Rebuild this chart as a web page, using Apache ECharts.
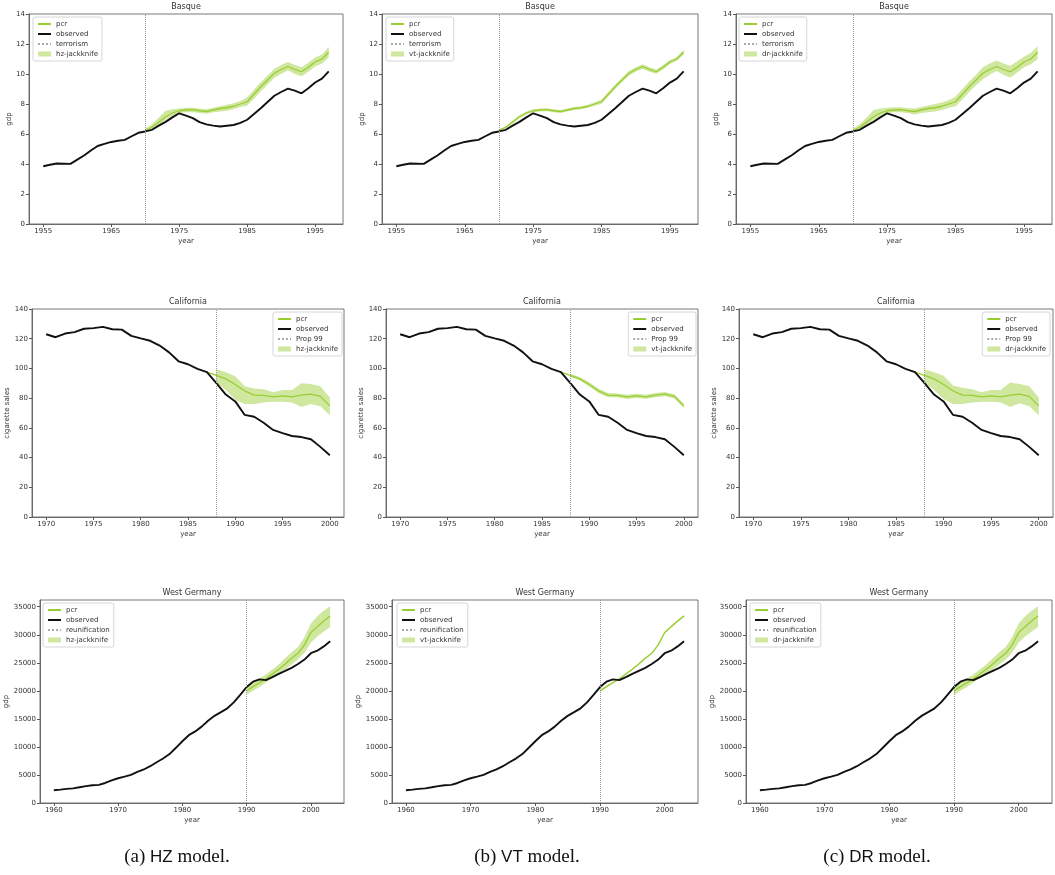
<!DOCTYPE html>
<html>
<head>
<meta charset="utf-8">
<script src="https://cdn.jsdelivr.net/npm/echarts@6/dist/echarts.min.js"></script>
<style>
  html, body { margin: 0; padding: 0; background: #fff; }
  #chart { width: 1055px; height: 875px; }
</style>
</head>
<body>
<div id="chart"></div>
<script>
  function range(a, b) {
    const r = []
    for (let y = a; y <= b; y++) r.push(y)
    return r
  }

  // ---- Basque ----
  const basqueYears = range(1955, 1997)
  const basqueObs = [3.85, 3.95, 4.03, 4.02, 4.01, 4.29, 4.57, 4.90, 5.20, 5.34,
    5.47, 5.55, 5.61, 5.85, 6.08, 6.17, 6.28, 6.56, 6.81, 7.11,
    7.38, 7.23, 7.06, 6.79, 6.64, 6.56, 6.50, 6.55, 6.60, 6.74,
    6.95, 7.33, 7.72, 8.13, 8.55, 8.80, 9.03, 8.89, 8.71, 9.05,
    9.43, 9.69, 10.17]
  const basqueTreat = 1970
  const basquePostYears = range(1970, 1997)
  const basquePcr = [6.25, 6.45, 6.8, 7.15, 7.4, 7.55, 7.6, 7.62, 7.55, 7.5,
    7.6, 7.7, 7.75, 7.85, 8.0, 8.15, 8.65, 9.15, 9.6, 10.05,
    10.3, 10.5, 10.3, 10.15, 10.45, 10.8, 11.0, 11.45]
  const basqueHzLo = [6.15, 6.3, 6.6, 6.95, 7.2, 7.4, 7.45, 7.45, 7.4, 7.35,
    7.45, 7.5, 7.55, 7.65, 7.8, 7.9, 8.35, 8.85, 9.3, 9.75,
    10.0, 10.25, 10.0, 9.85, 10.15, 10.5, 10.7, 11.1]
  const basqueHzHi = [6.35, 6.65, 7.1, 7.55, 7.65, 7.7, 7.75, 7.75, 7.7, 7.65,
    7.75, 7.85, 7.95, 8.05, 8.2, 8.45, 8.95, 9.45, 9.9, 10.35,
    10.6, 10.8, 10.6, 10.45, 10.75, 11.1, 11.3, 11.8]
  const basqueVtLo = [6.18, 6.38, 6.7, 7.05, 7.3, 7.45, 7.5, 7.52, 7.45, 7.4,
    7.5, 7.6, 7.65, 7.75, 7.88, 8.02, 8.52, 9.02, 9.47, 9.9,
    10.15, 10.35, 10.15, 10.02, 10.32, 10.67, 10.88, 11.3]
  const basqueVtHi = [6.32, 6.52, 6.9, 7.25, 7.5, 7.65, 7.7, 7.72, 7.65, 7.6,
    7.7, 7.8, 7.85, 7.95, 8.12, 8.3, 8.8, 9.3, 9.75, 10.2,
    10.45, 10.65, 10.45, 10.3, 10.6, 10.93, 11.13, 11.62]
  const basqueDrLo = [6.15, 6.3, 6.6, 6.95, 7.2, 7.4, 7.45, 7.45, 7.4, 7.3,
    7.4, 7.45, 7.5, 7.6, 7.75, 7.85, 8.3, 8.8, 9.25, 9.65,
    9.95, 10.2, 9.95, 9.75, 10.1, 10.45, 10.65, 11.0]
  const basqueDrHi = [6.35, 6.65, 7.1, 7.6, 7.7, 7.75, 7.78, 7.78, 7.72, 7.7,
    7.8, 7.9, 8.0, 8.1, 8.25, 8.5, 9.0, 9.5, 9.95, 10.45,
    10.7, 10.9, 10.7, 10.55, 10.85, 11.15, 11.4, 11.85]
  const basqueXTicks = [1955, 1965, 1975, 1985, 1995]
  const basqueYTicks = [0, 2, 4, 6, 8, 10, 12, 14]

  // ---- California ----
  const caliYears = range(1970, 2000)
  const caliObs = [123.0, 121.0, 123.5, 124.4, 126.7, 127.1, 128.0, 126.4, 126.1, 121.9,
    120.2, 118.6, 115.4, 110.8, 104.8, 102.8, 99.7, 97.5, 90.1, 82.4,
    77.8, 68.7, 67.5, 63.4, 58.6, 56.4, 54.5, 53.8, 52.3, 47.2, 41.6]
  const caliTreat = 1988
  const caliPcrYears = range(1987, 2000)
  const caliPcr = [97.5, 95.3, 93.0, 89.2, 84.8, 82.0, 81.8, 80.8, 81.5, 80.9, 82.0, 82.7, 81.2, 74.8]
  const caliBandYears = range(1988, 2000)
  const caliHzLo = [90.5, 85.5, 79.0, 76.0, 76.0, 77.0, 77.5, 77.5, 77.0, 74.0, 76.0, 74.5, 68.5]
  const caliHzHi = [99.5, 97.5, 94.8, 88.0, 86.5, 86.0, 84.0, 85.5, 85.5, 90.0, 89.5, 88.0, 80.5]
  const caliVtLo = [94.2, 91.8, 87.8, 83.3, 80.6, 80.4, 79.4, 80.1, 79.6, 80.6, 81.3, 79.8, 73.3]
  const caliVtHi = [96.5, 94.3, 90.7, 86.3, 83.5, 83.2, 82.3, 83.0, 82.3, 83.4, 84.1, 82.6, 76.3]
  const caliDrLo = [90.5, 85.5, 79.5, 76.0, 76.0, 77.0, 77.5, 77.5, 77.0, 74.0, 76.5, 74.5, 68.5]
  const caliDrHi = [99.5, 97.5, 95.0, 88.5, 87.0, 86.0, 84.0, 85.5, 85.5, 90.5, 89.5, 88.0, 80.5]
  const caliXTicks = [1970, 1975, 1980, 1985, 1990, 1995, 2000]
  const caliYTicks = [0, 20, 40, 60, 80, 100, 120, 140]

  // ---- West Germany ----
  const wgYears = range(1960, 2003)
  const wgObs = [2284, 2388, 2527, 2610, 2806, 3005, 3168, 3241, 3571, 4029,
    4412, 4706, 5024, 5544, 5979, 6564, 7258, 7926, 8724, 9845,
    11014, 12093, 12763, 13618, 14671, 15538, 16209, 16886, 17949, 19284,
    20670, 21625, 22047, 21913, 22435, 23028, 23564, 24104, 24781, 25579,
    26706, 27156, 27924, 28855]
  const wgTreat = 1990
  const wgPostYears = range(1990, 2003)
  const wgPcr = [20000, 20750, 21450, 22150, 23000, 23850, 24800, 25800, 26700, 28200, 30400, 31450, 32450, 33350]
  const wgHzLo = [19300, 20000, 20700, 21500, 22300, 23000, 23800, 24700, 25600, 26800, 28600, 29700, 30600, 31400]
  const wgHzHi = [20700, 21500, 22200, 22900, 23800, 24700, 25800, 26900, 27800, 29600, 32000, 33300, 34300, 35100]
  const wgVtLo = [19850, 20600, 21300, 22000, 22850, 23700, 24650, 25650, 26550, 28000, 30200, 31250, 32250, 33150]
  const wgVtHi = [20150, 20900, 21600, 22300, 23150, 24000, 24950, 25950, 26850, 28400, 30600, 31650, 32650, 33550]
  const wgDrLo = [19300, 20000, 20700, 21500, 22300, 23000, 23800, 24700, 25600, 26800, 28600, 29700, 30600, 31400]
  const wgDrHi = [20700, 21500, 22200, 22900, 23800, 24700, 25800, 26900, 27800, 29600, 32000, 33300, 34300, 35100]
  const wgXTicks = [1960, 1970, 1980, 1990, 2000]
  const wgYTicks = [0, 5000, 10000, 15000, 20000, 25000, 30000, 35000]

  const models = ['hz', 'vt', 'dr']
  const captions = [['(a) ', 'HZ', ' model.'], ['(b) ', 'VT', ' model.'], ['(c) ', 'DR', ' model.']]

  const FONT = 'DejaVu Sans'
  const TEXT = '#333'
  const FRAME = '#555'
  const PCR = '#9acd32'
  const BAND = '#cfe79f'

  const panels = [
    {
      title: 'Basque', years: basqueYears, obs: basqueObs, pcrYears: basquePostYears, pcr: basquePcr,
      bandYears: basquePostYears, bands: [[basqueHzLo, basqueHzHi], [basqueVtLo, basqueVtHi], [basqueDrLo, basqueDrHi]],
      event: 'terrorism', treat: basqueTreat, yName: 'gdp', yMax: 14, xMin: 1952.9, xMax: 1999.1,
      xTicks: basqueXTicks, yTicks: basqueYTicks, yNameGap: 16,
      top: 14, height: 210, cols: [[29, 314], [382, 316], [736, 316]], titleY: 7,
      legend: [{ left: 33, top: 17 }, { left: 386, top: 17 }, { left: 739, top: 17 }]
    },
    {
      title: 'California', years: caliYears, obs: caliObs, pcrYears: caliPcrYears, pcr: caliPcr,
      bandYears: caliBandYears, bands: [[caliHzLo, caliHzHi], [caliVtLo, caliVtHi], [caliDrLo, caliDrHi]],
      event: 'Prop 99', treat: caliTreat, yName: 'cigarette sales', yMax: 140, xMin: 1968.5, xMax: 2001.5,
      xTicks: caliXTicks, yTicks: caliYTicks, yNameGap: 20,
      top: 309, height: 208, cols: [[32, 312], [386, 312], [739, 314]], titleY: 302,
      legend: [{ right: 713, top: 312 }, { right: 359, top: 312 }, { right: 5, top: 312 }]
    },
    {
      title: 'West Germany', years: wgYears, obs: wgObs, pcrYears: wgPostYears, pcr: wgPcr,
      bandYears: wgPostYears, bands: [[wgHzLo, wgHzHi], [wgVtLo, wgVtHi], [wgDrLo, wgDrHi]],
      event: 'reunification', treat: wgTreat, yName: 'gdp', yMax: 36200, xMin: 1957.85, xMax: 2005.15,
      xTicks: wgXTicks, yTicks: wgYTicks, yNameGap: 29,
      top: 600, height: 203, cols: [[40, 304], [392, 306], [746, 306]], titleY: 593,
      legend: [{ left: 43, top: 603 }, { left: 397, top: 603 }, { left: 750, top: 603 }]
    }
  ]

  const plain = function (v) { return String(v) }

  const grid = []
  const xAxis = []
  const yAxis = []
  const series = []
  const legend = []
  const graphic = []

  panels.forEach((p, r) => {
    p.cols.forEach((col, c) => {
      const idx = r * 3 + c
      const model = models[c]
      const lo = p.bands[c][0]
      const hi = p.bands[c][1]

      grid.push({
        left: col[0], top: p.top, width: col[1], height: p.height,
        show: true, borderColor: FRAME, borderWidth: 0.8, containLabel: false
      })
      xAxis.push({
        gridIndex: idx, type: 'value', min: p.xMin, max: p.xMax,
        name: 'year', nameLocation: 'middle', nameGap: 14,
        nameTextStyle: { fontSize: 7, color: TEXT, fontFamily: FONT },
        axisLine: { show: true, lineStyle: { color: FRAME, width: 0.8 } },
        axisTick: { show: true, length: 3, customValues: p.xTicks, lineStyle: { color: FRAME } },
        axisLabel: { customValues: p.xTicks, formatter: plain, fontSize: 7, color: TEXT, fontFamily: FONT, margin: 4 },
        splitLine: { show: false }
      })
      yAxis.push({
        gridIndex: idx, type: 'value', min: 0, max: p.yMax,
        name: p.yName, nameLocation: 'middle', nameGap: p.yNameGap,
        nameTextStyle: { fontSize: 7, color: TEXT, fontFamily: FONT },
        axisLine: { show: true, lineStyle: { color: FRAME, width: 0.8 } },
        axisTick: { show: true, length: 3, customValues: p.yTicks, lineStyle: { color: FRAME } },
        axisLabel: { customValues: p.yTicks, formatter: plain, fontSize: 7, color: TEXT, fontFamily: FONT, margin: 4 },
        splitLine: { show: false }
      })

      const bandName = model + '-jackknife'
      series.push({
        name: bandName, type: 'custom', xAxisIndex: idx, yAxisIndex: idx, z: 1,
        itemStyle: { color: BAND },
        encode: { x: 0, y: [1, 2] },
        data: p.bandYears.map((y, i) => [y, lo[i], hi[i]]),
        renderItem: function (params, api) {
          if (params.dataIndex !== 0) return
          const upper = []
          const lower = []
          p.bandYears.forEach((y, i) => {
            upper.push(api.coord([y, hi[i]]))
            lower.push(api.coord([y, lo[i]]))
          })
          return {
            type: 'polygon',
            shape: { points: upper.concat(lower.reverse()) },
            style: { fill: BAND }
          }
        }
      })
      series.push({
        name: 'pcr', type: 'line', xAxisIndex: idx, yAxisIndex: idx, z: 3,
        symbol: 'none', silent: true,
        itemStyle: { color: PCR },
        lineStyle: { color: PCR, width: 1.3 },
        data: p.pcrYears.map((y, i) => [y, p.pcr[i]])
      })
      series.push({
        name: 'observed', type: 'line', xAxisIndex: idx, yAxisIndex: idx, z: 4,
        symbol: 'none', silent: true,
        itemStyle: { color: '#111' },
        lineStyle: { color: '#111', width: 1.9 },
        data: p.years.map((y, i) => [y, p.obs[i]])
      })
      series.push({
        name: p.event, type: 'line', xAxisIndex: idx, yAxisIndex: idx, z: 2,
        symbol: 'none', silent: true,
        itemStyle: { color: '#aaa' },
        lineStyle: { color: '#aaa', width: 1, type: 'dotted' },
        data: [],
        markLine: {
          silent: true, symbol: 'none', animation: false,
          label: { show: false },
          lineStyle: { color: '#999', width: 1, type: 'dotted' },
          data: [{ xAxis: p.treat }]
        }
      })

      const noDot = { opacity: 0 }
      legend.push(Object.assign({
        orient: 'vertical', itemWidth: 13, itemHeight: 5, itemGap: 2,
        padding: [3, 4, 3, 4], borderColor: '#ccc', borderWidth: 0.8, borderRadius: 2,
        backgroundColor: 'rgba(255,255,255,0.85)',
        textStyle: { fontSize: 7, color: TEXT, fontFamily: FONT, lineHeight: 8 },
        selectedMode: false,
        data: [
          { name: 'pcr', itemStyle: noDot },
          { name: 'observed', itemStyle: noDot },
          { name: p.event, itemStyle: noDot },
          { name: bandName, icon: 'rect', itemStyle: { color: BAND } }
        ]
      }, p.legend[c]))

      graphic.push({
        type: 'text', x: col[0] + col[1] / 2, y: p.titleY, silent: true,
        style: {
          text: p.title, align: 'center', verticalAlign: 'middle',
          fontSize: 8, fontFamily: FONT, fill: TEXT
        }
      })
    })
  })

  const captionX = [177, 527, 877]
  captions.forEach((cap, i) => {
    graphic.push({
      type: 'text', x: captionX[i], y: 857, silent: true,
      style: {
        text: '{s|' + cap[0] + '}{t|' + cap[1] + '}{s|' + cap[2] + '}',
        align: 'center', verticalAlign: 'middle',
        rich: {
          s: { fontFamily: 'Liberation Serif', fontSize: 19, fill: '#111' },
          t: { fontFamily: 'Liberation Sans', fontSize: 17, fill: '#111' }
        }
      }
    })
  })

  const chart = echarts.init(document.getElementById('chart'))
  chart.setOption({
    animation: false,
    backgroundColor: '#fff',
    textStyle: { fontFamily: FONT },
    grid: grid,
    xAxis: xAxis,
    yAxis: yAxis,
    legend: legend,
    series: series,
    graphic: graphic
  })
</script>
</body>
</html>
